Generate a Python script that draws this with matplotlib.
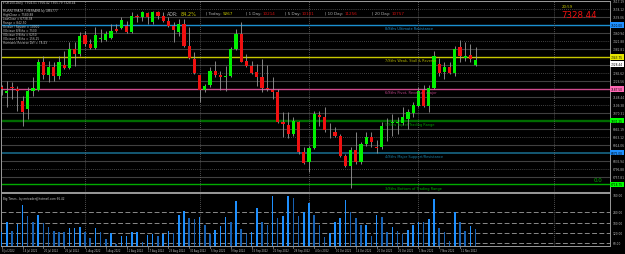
import matplotlib.pyplot as plt
from matplotlib.transforms import blended_transform_factory

W, H = 625, 255

# UK100 daily candles, 8 Jul 2022 .. 16 Nov 2022
opens = [7195, 7166, 7195, 7185, 7127, 7087, 7176, 7181, 7318, 7254,
         7294, 7249, 7303, 7289, 7382, 7357, 7451, 7407, 7387, 7431,
         7426, 7436, 7480, 7485, 7495, 7466, 7544, 7539, 7559, 7515,
         7564, 7544, 7520, 7495, 7466, 7505, 7397, 7333, 7254, 7181,
         7205, 7274, 7254, 7244, 7249, 7382, 7456, 7323, 7299, 7269,
         7244, 7190, 7181, 7171, 7023, 7009, 6964, 7023, 6876, 6827,
         6896, 7058, 7048, 6979, 6974, 6955, 6856, 6807, 6886, 6827,
         6915, 6950, 6900, 6900, 7018, 7018, 7018, 7018, 7038, 7067,
         7102, 7181, 7102, 7190, 7308, 7269, 7294, 7264, 7392, 7338,
         7352, 7306.01]
highs = [7205, 7225, 7220, 7200, 7151, 7195, 7244, 7333, 7348, 7323,
         7318, 7348, 7372, 7416, 7416, 7466, 7470, 7431, 7490, 7480,
         7470, 7505, 7505, 7539, 7520, 7564, 7554, 7569, 7564, 7569,
         7569, 7564, 7539, 7515, 7529, 7529, 7490, 7367, 7259, 7210,
         7294, 7323, 7274, 7299, 7392, 7480, 7515, 7357, 7323, 7308,
         7333, 7303, 7244, 7185, 7072, 7072, 7048, 7028, 6900, 6905,
         7077, 7077, 7097, 7018, 6999, 6964, 6866, 6900, 6974, 6925,
         6974, 6974, 6935, 7023, 7043, 7063, 7048, 7097, 7087, 7122,
         7195, 7205, 7205, 7372, 7338, 7318, 7318, 7397, 7426, 7416,
         7407, 7392]
lows = [7156, 7097, 7136, 7077, 7004, 7038, 7151, 7176, 7235, 7220,
        7225, 7235, 7284, 7284, 7299, 7348, 7397, 7382, 7382, 7416,
        7421, 7431, 7466, 7480, 7461, 7461, 7515, 7520, 7505, 7505,
        7529, 7515, 7490, 7416, 7446, 7392, 7333, 7259, 7122, 7171,
        7195, 7244, 7181, 7176, 7244, 7377, 7318, 7294, 7259, 7200,
        7171, 7176, 7136, 7018, 6950, 6945, 6955, 6866, 6817, 6778,
        6891, 7004, 6974, 6945, 6950, 6851, 6802, 6704, 6817, 6817,
        6905, 6900, 6871, 6891, 6930, 6955, 6964, 7009, 6989, 7048,
        7097, 7097, 7072, 7185, 7249, 7235, 7259, 7249, 7318, 7323,
        7318, 7299]
closes = [7185, 7176, 7190, 7176, 7072, 7176, 7190, 7318, 7254, 7294,
          7249, 7318, 7289, 7382, 7357, 7446, 7407, 7387, 7451, 7436,
          7456, 7470, 7470, 7525, 7466, 7544, 7539, 7564, 7539, 7564,
          7544, 7520, 7495, 7475, 7505, 7397, 7338, 7264, 7181, 7200,
          7274, 7254, 7244, 7251, 7382, 7456, 7318, 7299, 7264, 7244,
          7190, 7185, 7171, 7023, 7014, 6964, 7028, 6876, 6822, 6896,
          7063, 7048, 6984, 6979, 6955, 6856, 6807, 6886, 6827, 6915,
          6950, 6925, 6896, 7004, 7018, 7023, 7026, 7048, 7072, 7107,
          7176, 7102, 7190, 7348, 7264, 7294, 7264, 7382, 7348, 7348,
          7333, 7328.44]
volumes = [127, 185, 132, 171, 283, 216, 181, 224, 175, 152,
           132, 127, 123, 146, 146, 156, 123, 89, 146, 123,
           84, 117, 54, 99, 103, 127, 127, 68, 107, 113,
           99, 113, 132, 117, 224, 250, 205, 201, 214, 166,
           113, 136, 158, 211, 181, 308, 142, 113, 123, 265,
           181, 166, 338, 205, 220, 334, 324, 216, 244, 293,
           224, 166, 93, 119, 185, 205, 312, 240, 205, 166,
           166, 103, 224, 211, 127, 156, 132, 113, 136, 166,
           185, 181, 201, 318, 146, 123, 74, 240, 181, 132,
           158, 142]

date_labels = ["8 Jul 2022", "14 Jul 2022", "20 Jul 2022", "26 Jul 2022", "1 Aug 2022",
               "5 Aug 2022", "11 Aug 2022", "17 Aug 2022", "23 Aug 2022", "30 Aug 2022",
               "5 Sep 2022", "9 Sep 2022", "15 Sep 2022", "22 Sep 2022", "28 Sep 2022",
               "4 Oct 2022", "10 Oct 2022", "14 Oct 2022", "20 Oct 2022", "26 Oct 2022",
               "1 Nov 2022", "7 Nov 2022", "11 Nov 2022"]
month_bars = [16, 38, 59, 80, 106]

murrey_levels = [7500, 7343.75, 7187.5, 7031.25, 6875, 6718.75]
murrey_names = ["8/8ths Ultimate Resistance", "7/8ths Weak, Stall & Reverse",
                "6/8ths Pivot, Reverse - major", "5/8ths Top of Trading Range",
                "4/8ths Major Support/Resistance", "3/8ths Bottom of Trading Range"]
murrey_colors = ["#1b8fd0", "#c8c800", "#d04a8e", "#006c00", "#165f7c", "#00aa00"]
murrey_text = ["#1b8fd0", "#b4b400", "#c0458a", "#00a000", "#1a80a8", "#00b000"]
murrey_box = ["#1e90ff", "#e6e600", "#ff69b4", "#00ff00", "#1e90ff", "#00ff00"]
murrey_lw = [1.0, 1.0, 1.0, 1.7, 1.3, 1.0]
step = 39.0625

info_lines = ["\u25be UK100,Daily  7304.01 7356.42 7305.79 7328.44",
              "MURREYMATH TIMEFRAME by GMS777",
              "HighClose = 7580.88",
              "LowClose = 6738.38",
              "Range = 842.50",
              "Octave / Square = 10000",
              "VOctave 8/8ths = 7500",
              "VOctave 0/8ths = 6250",
              "VOctave 1/8ths = 156.25",
              "Harmonic Reverse Diff = 78.43"]
vol_levels = [60, 120, 180, 240]

fig = plt.figure(figsize=(W / 100, H / 100), dpi=100, facecolor="black")


def fx(px):
    return px / W


def fy(py):
    return 1 - py / H


ax = fig.add_axes([fx(1), fy(193), fx(610) - fx(1), (193 - 2) / H])
axv = fig.add_axes([fx(1), fy(247.3), fx(610) - fx(1), (247.3 - 193.5) / H])

n = len(closes)
xs = list(range(n))
for a in (ax, axv):
    a.set_facecolor("black")
    a.set_xlim(-0.13, 116.8)
    a.set_xticks([])
    a.set_yticks([])
    for s in a.spines.values():
        s.set_color("#9a9a9a")
        s.set_linewidth(0.7)
ax.set_ylim(6682.0, 7617.5)
axv.set_ylim(40.6, 356.2)

# murrey sub lines and grid
for k in range(-21, 4):
    lvl = 7500 + k * step
    if k % 4 == 0 and lvl in murrey_levels:
        i = murrey_levels.index(lvl)
        ax.axhline(lvl, color=murrey_colors[i], lw=murrey_lw[i], zorder=1)
    elif k % 2 == 0:
        ax.axhline(lvl, color="#5a5a5a", lw=0.6, ls=(0, (1, 1.5)), zorder=1)
    else:
        ax.axhline(lvl, color="#404040", lw=0.8, zorder=1)

for a in (ax, axv):
    for b in month_bars:
        a.axvline(b, color="#6a6a6a", lw=0.6, ls=(0, (1, 1.5)), zorder=1)

# candles
ax.vlines(xs, lows, highs, color="#9a9a9a", lw=0.6, zorder=2)
body_col = []
for o, c in zip(opens, closes):
    if abs(c - o) < 1:
        body_col.append("#c8c8c8")
    elif c > o:
        body_col.append("#00f000")
    else:
        body_col.append("#f01010")
bottoms = [min(o, c) for o, c in zip(opens, closes)]
heights = [max(abs(c - o), 4) for o, c in zip(opens, closes)]
ax.bar(xs, heights, bottom=bottoms, width=0.62, color=body_col, lw=0, zorder=3)

# murrey labels
for lvl, name, col in zip(murrey_levels, murrey_names, murrey_text):
    ax.annotate(name, (73.6, lvl), xytext=(0, -0.8), textcoords="offset points",
                fontsize=2.5, color=col, va="top", ha="left", zorder=4)

# right price scale
tr = blended_transform_factory(ax.transAxes, ax.transData)
for k in range(-20, 4):
    lvl = 7500 + k * step
    if lvl in murrey_levels:
        i = murrey_levels.index(lvl)
        ax.text(1.002, lvl, f"{lvl:.2f}", transform=tr, fontsize=2.1, color="black",
                va="center", ha="left", clip_on=False,
                bbox=dict(boxstyle="square,pad=0.25", fc=murrey_box[i], ec="none"))
    else:
        ax.text(1.004, lvl, f"{lvl:.2f}", transform=tr, fontsize=2.1, color="#b8b8b8",
                va="center", ha="left", clip_on=False)
ax.text(1.002, closes[-1] - 20, f"{closes[-1]:.2f}", transform=tr, fontsize=2.1, color="black",
        va="center", ha="left", clip_on=False,
        bbox=dict(boxstyle="square,pad=0.25", fc="white", ec="none"))

# volume panel
vcol = ["#1e90ff"]
for i in range(1, n):
    vcol.append("#1e90ff" if volumes[i] >= volumes[i - 1] else "#1762b4")
axv.bar(xs, volumes, width=0.3, color=vcol, lw=0, zorder=3)
for lv in vol_levels:
    axv.axhline(lv, color="#8a8a8a", lw=0.7, ls=(0, (5, 2.5)), zorder=2)
trv = blended_transform_factory(axv.transAxes, axv.transData)
for lv in vol_levels + [340.0]:
    axv.text(1.004, lv, f"{lv:.2f}", transform=trv, fontsize=2.1, color="#b8b8b8",
             va="center", ha="left", clip_on=False)
axv.text(0.004, 0.93, "Big Times - by mrtrader@hotmail.com 66.42", transform=axv.transAxes,
         fontsize=2.0, color="#c8c8c8", va="top", ha="left")

# date axis
trd = blended_transform_factory(axv.transData, axv.transAxes)
for j, lab in enumerate(date_labels):
    xb = 4 * j
    axv.plot([xb, xb], [0, -0.03], transform=trd, color="#9a9a9a", lw=0.5, clip_on=False)
    axv.text(xb + 0.1, -0.04, lab, transform=trd, fontsize=1.8, color="#c0c0c0",
             va="top", ha="left", clip_on=False)

# top-left info block
info_y = [2.7, 11, 15, 19.2, 23.2, 27.2, 31, 34.8, 38.7, 42.6]
for yy, line in zip(info_y, info_lines):
    fig.text(fx(3), fy(yy), line, fontsize=2.1, color="#c8c8c8", va="center", ha="left")

# ADR strip
fig.text(fx(166.5), fy(14), "ADR:", fontsize=3.4, color="#b0b0b0", va="center", ha="left")
fig.text(fx(180.5), fy(14), "84.2%", fontsize=3.6, color="#c8c800", va="center", ha="left")
strip = [("| Today: ", "9267", "#c8c800", 205.5),
         ("| 1 Day: ", "10214", "#d01010", 245.5),
         ("| 5 Day: ", "10101", "#d01010", 285),
         ("| 10 Day: ", "11256", "#d01010", 325),
         ("| 20 Day: ", "10757", "#d01010", 371.5)]
for lab, val, col, xp in strip:
    t = fig.text(fx(xp), fy(14), lab, fontsize=3.0, color="#b0b0b0", va="center", ha="left")
    fig.canvas.draw()
    bb = t.get_window_extent()
    fig.text(bb.x1 / W, fy(14), val, fontsize=3.0, color=col, va="center", ha="left")

fig.text(fx(562), fy(7.5), "20:59", fontsize=2.8, color="#c8c800", va="center", ha="left")
fig.text(fx(561), fy(15.5), f"{closes[-1]:.2f}", fontsize=6.2, color="#f01010",
         va="center", ha="left")
fig.text(fx(594), fy(181), "0.0", fontsize=4.0, color="#00b000", va="center", ha="left")

fig.savefig("out.png", dpi=100, facecolor="black")
